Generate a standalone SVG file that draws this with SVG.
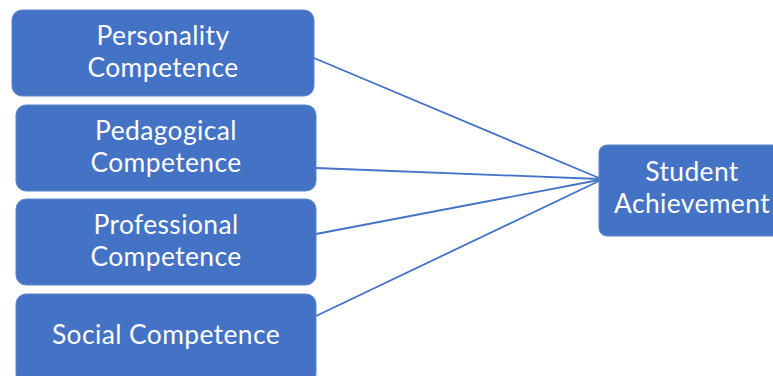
<svg xmlns="http://www.w3.org/2000/svg" width="773" height="376" viewBox="0 0 773 376">
<style>
.box{fill:#4472C4;stroke:#5B84CC;stroke-width:1}
.t{font-family:Lato,"Open Sans",sans-serif;font-size:26.4px;letter-spacing:0.4px;fill:#FFFFFF;text-anchor:middle}
.c{stroke:#4472C4;stroke-width:1.8;fill:none}
</style>
<rect width="773" height="376" fill="#FFFFFF"/>
<g id="connectors">
<line class="c" x1="314" y1="58" x2="599" y2="178"/>
<line class="c" x1="316" y1="168" x2="599" y2="179"/>
<line class="c" x1="316" y1="234" x2="599" y2="180"/>
<line class="c" x1="316" y1="316" x2="599" y2="181"/>
</g>
<g id="personality">
<rect class="box" x="12" y="10" width="302" height="86" rx="10"/>
<text class="t" x="163" y="45">Personality</text>
<text class="t" x="163" y="77">Competence</text>
</g>
<g id="pedagogical">
<rect class="box" x="16" y="105" width="300" height="86" rx="10"/>
<text class="t" x="166" y="140">Pedagogical</text>
<text class="t" x="166" y="172">Competence</text>
</g>
<g id="professional">
<rect class="box" x="16" y="199" width="300" height="86" rx="10"/>
<text class="t" x="166" y="234">Professional</text>
<text class="t" x="166" y="266">Competence</text>
</g>
<g id="social">
<rect class="box" x="16" y="294" width="300" height="90" rx="10"/>
<text class="t" x="166" y="344">Social Competence</text>
</g>
<g id="student">
<rect class="box" x="599" y="145" width="190" height="91" rx="8"/>
<text class="t" x="692" y="181">Student</text>
<text class="t" x="692" y="213">Achievement</text>
</g>
</svg>
